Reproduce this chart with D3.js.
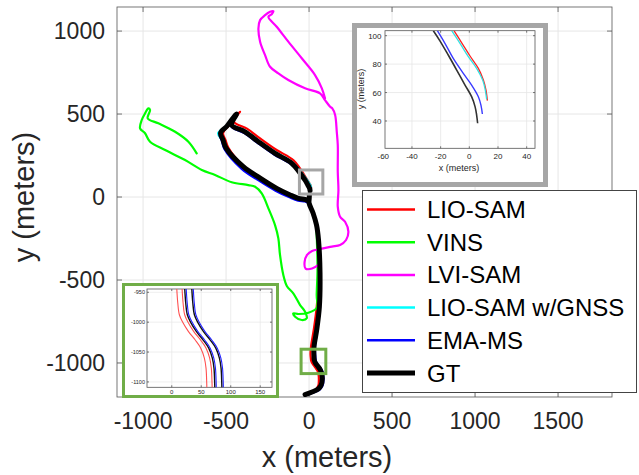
<!DOCTYPE html>
<html><head><meta charset="utf-8">
<script src="https://cdn.jsdelivr.net/npm/d3@7"></script>
<style>
body{margin:0;background:#fff;}
svg{display:block;font-family:"Liberation Sans",Arial,Helvetica,sans-serif;}
</style></head><body>
<svg id="c" width="639" height="475"></svg>
<script>
// ---------------- DATA (meters) ----------------
const seriesNames = ["LIO-SAM","VINS","LVI-SAM","LIO-SAM w/GNSS","EMA-MS","GT"];
const xTicks = [-1000,-500,0,500,1000,1500];
const yTicks = [-1000,-500,0,500,1000];

const gt = [[6,38],[5,45],[2.8,53],[-3,65],[-9,76],[-25,103],[-104,203],[-205,263],[-305,333],[-386,393],[-466,434],[-436,500],[-458,476],[-494,428],[-533,386],[-518,343],[-500,295],[-396,183],[-295,114],[-195,52],[-114,12],[-64,-8],[-24,-15],[-4,-22],null,
  [2,14],[1,-10],[0,-36],[24,-96],[45,-169],[57,-259],[66,-458],[62,-663],[46,-801],[30,-900],[29,-944],[32,-985],[39,-1002],[53,-1020],[67,-1040],[76,-1065],[80,-1095],[72,-1135],[55,-1157],[18,-1175],[-24,-1190]];

const lioSam = [[12.6,54],[11.6,62],[9.8,69],[6.3,77],[0.5,86],[-5.3,95],[-10.7,103.5],[-92,220],[-193,282],[-293,352],[-374,412],[-452,454],[-416,514],[-446,482],[-482,432],[-518,386],[-503,343],[-485,295],[-392,185],[-292,118],[-193,55],[-112,14],[-62,-6],[-22,-14],[-2,-34],[20,-98],[41,-170],[53,-260],[60,-458],[46,-663],[28,-801],[12,-900],[8.5,-944],[10.2,-968],[12.9,-988],[18.6,-1000],[28,-1015],[39.5,-1030],[49,-1044],[55,-1060],[58,-1077],[59,-1102],[56,-1135],[40,-1160],[10,-1176],[-26,-1190]];

const vins = [[27,-96],[42,-169],[48,-289],[51,-440],[46,-590],[46,-669],[-4,-697],[-64,-705],[-95,-701],[-84,-721],[-44,-741],[-14,-731],[-24,-691],[-54,-651],[-95,-580],[-134,-536],[-155,-470],[-175,-349],[-185,-249],[-205,-169],[-245,-68],[-285,22],[-325,62],[-366,72],[-466,89],[-566,133],[-646,163],[-747,223],[-867,283],[-958,333],[-988,384],[-1018,414],[-1008,464],[-988,504],[-968,534],[-958,524],[-972,474],[-908,444],[-807,393],[-727,333],[-677,263]];

const lviSam = [[54,-410],[18,-431],[-21,-431],[-27,-392],[-12,-349],[18,-325],[66,-313],[137,-299],[187,-289],[223,-259],[237,-209],[217,-149],[187,-119],[173,-58],[177,42],[173,152],[173,313],[167,393],[157,494],[140,534],[127,544],[96,584],[66,625],[-24,655],[-125,705],[-185,745],[-235,785],[-265,855],[-295,936],[-305,1016],[-295,1066],[-265,1096],[-235,1116],[-215,1120],[-225,1101],[-245,1086],[-195,1026],[-125,936],[-44,836],[36,735],[77,655],[96,595]];

const lioSamGnss = [[12.1,55.2],[10.9,63],[9.3,68.8],[5.1,77],[-0.7,85.2],[-6.5,94.6],[-12.3,103.5],[-100,208],[-201,268],[-301,338],[-382,398],[-463,439],[-432,504],[-455,479],[-494,430],[-548,384],[-522,340],[-503,291],[-398,181],[-296,112],[-196,50],[-114,10],[-64,-9],[-24,-17],[0,-36],[24,-96],[45,-169],[57,-259],[66,-458],[62,-663],[46,-801],[30,-900],[29,-944],[32,-985],[39,-1002],[53,-1020],[67,-1040],[76,-1065],[80,-1095],[72,-1135],[55,-1158],[18,-1177],[-24,-1190]];

const emaMs = [[9.1,44.9],[8.1,51.2],[6.3,57.1],[1.6,65.3],[-4.2,73.5],[-11.2,84],[-17,94.6],[-22.3,103.5],[-106,196],[-208,255],[-308,325],[-390,385],[-470,427],[-440,495],[-461,472],[-498,424],[-538,380],[-526,340],[-510,290],[-406,170],[-304,100],[-202,38],[-118,-2],[-66,-22],[-24,-27],[-2,-40],[26,-96],[48,-168],[61,-259],[69,-458],[66,-663],[50,-801],[36,-900],[36.5,-944],[40.9,-988],[46.6,-1000],[56,-1015],[67.5,-1030],[77,-1044],[83,-1060],[86,-1077],[87,-1102],[82,-1135],[64,-1160],[22,-1180],[-24,-1196]];

// zoom regions drawn in the main plot (meters)
const topZoomRegion = [[-58,18],[83,163]];
const botZoomRegion = [[-48,-917],[101,-1064]];

// upper-right inset
const insetTopXTicks = [-60,-40,-20,0,20,40];
const insetTopYTicks = [40,60,80,100];
const topGT = [[-25.1,103.5],[-20.5,96.4],[-14.7,86.4],[-8.8,75.8],[-3.0,65.3],[1.6,57.1],[4.0,50.1],[5.1,44.2],[5.8,38.4]];
const topEMA = [[-22.3,103.5],[-17,94.6],[-11.2,84],[-4.2,73.5],[1.6,65.3],[6.3,57.1],[8.1,51.2],[9.1,44.9]];
const topGnss = [[-12.3,103.5],[-6.5,94.6],[-0.7,85.2],[5.1,77],[9.3,68.8],[10.9,63],[12.1,55.2]];
const topLio = [[-10.7,103.5],[-5.3,95],[0.5,85.7],[6.3,77],[9.8,68.8],[11.6,61.8],[12.6,54.3]];

// lower-left inset
const insetBotXTicks = [0,50,100,150];
const insetBotYTicks = [-950,-1000,-1050,-1100];
const botLio1 = [[8.5,-944],[10.2,-968],[12.9,-987.6],[18.6,-1000.3],[28.1,-1015.4],[39.5,-1029.5],[49.2,-1043.5],[55.3,-1060.2],[58.1,-1077],[59.3,-1102],[59.5,-1110]];
const botLio2 = [[17.5,-944],[19.2,-968],[21.9,-987.6],[27.6,-1000.3],[37.1,-1015.4],[48.5,-1029.5],[58.2,-1043.5],[64.3,-1060.2],[67.1,-1077],[68.3,-1102],[68.5,-1110]];
const botGT1 = [[22,-944],[23.7,-968],[26.4,-987.6],[32.1,-1000.3],[41.6,-1015.4],[53,-1029.5],[62.7,-1043.5],[68.8,-1060.2],[71.6,-1077],[72.8,-1102],[73,-1110]];
const botEMA1 = [[24.5,-944],[26.2,-968],[28.9,-987.6],[34.6,-1000.3],[44.1,-1015.4],[55.5,-1029.5],[65.2,-1043.5],[71.3,-1060.2],[74.1,-1077],[75.3,-1102],[75.5,-1110]];
const botGT2 = [[34,-944],[35.7,-968],[38.4,-987.6],[44.1,-1000.3],[53.6,-1015.4],[65,-1029.5],[74.7,-1043.5],[80.8,-1060.2],[83.6,-1077],[84.8,-1102],[85,-1110]];
const botEMA2 = [[36.5,-944],[38.2,-968],[40.9,-987.6],[46.6,-1000.3],[56.1,-1015.4],[67.5,-1029.5],[77.2,-1043.5],[83.3,-1060.2],[86.1,-1077],[87.3,-1102],[87.5,-1110]];

// ---------------- STYLE ----------------
const colors = ["#ff0000","#00ff00","#ff00ff","#00ffff","#0000ff","#000000"];
const widths = [2.2,2.2,2.2,2.2,2.2,5];
const txt = "#262626", gridC = "#e6e6e6", axC = "#555";

const svg = d3.select("#c");
const x = d3.scaleLinear().domain([-1157,1825]).range([117,612]);
const y = d3.scaleLinear().domain([-1205,1145]).range([397,7]);

function drawAxes(g, xs, ys, xt, yt, tickLen, fs, opts){
  const [x0,x1] = xs.range(), [y0,y1] = ys.range();
  g.append("rect").attr("x",x0).attr("y",y1).attr("width",x1-x0).attr("height",y0-y1).attr("fill","#fff");
  g.selectAll(null).data(xt.filter(v=>v>=xs.domain()[0]&&v<=xs.domain()[1])).join("line")
    .attr("x1",d=>xs(d)).attr("x2",d=>xs(d)).attr("y1",y0).attr("y2",y1).attr("stroke",gridC).attr("stroke-width",opts.gw);
  g.selectAll(null).data(yt).join("line")
    .attr("y1",d=>ys(d)).attr("y2",d=>ys(d)).attr("x1",x0).attr("x2",x1).attr("stroke",gridC).attr("stroke-width",opts.gw);
}
function drawFrame(g, xs, ys, xt, yt, tickLen, sw){
  const [x0,x1] = xs.range(), [y0,y1] = ys.range();
  const xv = xt.filter(v=>v>=xs.domain()[0]&&v<=xs.domain()[1]);
  g.selectAll(null).data(xv).join("line").attr("x1",d=>xs(d)).attr("x2",d=>xs(d)).attr("y1",y0).attr("y2",y0-tickLen).attr("stroke",axC).attr("stroke-width",sw);
  g.selectAll(null).data(xv).join("line").attr("x1",d=>xs(d)).attr("x2",d=>xs(d)).attr("y1",y1).attr("y2",y1+tickLen).attr("stroke",axC).attr("stroke-width",sw);
  g.selectAll(null).data(yt).join("line").attr("y1",d=>ys(d)).attr("y2",d=>ys(d)).attr("x1",x0).attr("x2",x0+tickLen).attr("stroke",axC).attr("stroke-width",sw);
  g.selectAll(null).data(yt).join("line").attr("y1",d=>ys(d)).attr("y2",d=>ys(d)).attr("x1",x1).attr("x2",x1-tickLen).attr("stroke",axC).attr("stroke-width",sw);
  g.append("rect").attr("x",x0).attr("y",y1).attr("width",x1-x0).attr("height",y0-y1).attr("fill","none").attr("stroke",axC).attr("stroke-width",sw);
}

// ---- main axes ----
const main = svg.append("g");
drawAxes(main, x, y, xTicks, yTicks, 5, 23, {gw:1});
svg.append("clipPath").attr("id","mclip").append("rect").attr("x",117).attr("y",7).attr("width",495).attr("height",390);

const lineMain = d3.line().defined(d=>d!==null).x(d=>x(d[0])).y(d=>y(d[1])).curve(d3.curveCatmullRom.alpha(0.5));
const mainSeries = [lioSam, vins, lviSam, lioSamGnss, emaMs, gt];
const traj = svg.append("g").attr("clip-path","url(#mclip)");
mainSeries.forEach((s,i)=>{
  traj.append("path").attr("d",lineMain(s)).attr("fill","none").attr("stroke",colors[i])
    .attr("stroke-width",widths[i]).attr("stroke-linejoin","round").attr("stroke-linecap","round");
});
drawFrame(main.append("g"), x, y, xTicks, yTicks, 5, 0.8);

// tick labels
svg.append("g").selectAll("text").data(xTicks).join("text")
  .attr("x",d=>x(d)).attr("y",429).attr("text-anchor","middle").attr("font-size",23).attr("fill",txt).text(d=>d);
svg.append("g").selectAll("text").data(yTicks).join("text")
  .attr("x",105).attr("y",d=>y(d)+8).attr("text-anchor","end").attr("font-size",23).attr("fill",txt).text(d=>d);
svg.append("text").attr("x",327).attr("y",467).attr("text-anchor","middle").attr("font-size",29).attr("fill",txt).text("x (meters)");
svg.append("text").attr("transform","translate(34,197) rotate(-90)").attr("text-anchor","middle").attr("font-size",29).attr("fill",txt).text("y (meters)");

// zoom region boxes
svg.append("rect").attr("x",x(topZoomRegion[0][0])).attr("y",y(topZoomRegion[1][1]))
  .attr("width",x(topZoomRegion[1][0])-x(topZoomRegion[0][0])).attr("height",y(topZoomRegion[0][1])-y(topZoomRegion[1][1]))
  .attr("fill","none").attr("stroke","#a6a6a6").attr("stroke-width",3);
svg.append("rect").attr("x",x(botZoomRegion[0][0])).attr("y",y(botZoomRegion[0][1]))
  .attr("width",x(botZoomRegion[1][0])-x(botZoomRegion[0][0])).attr("height",y(botZoomRegion[1][1])-y(botZoomRegion[0][1]))
  .attr("fill","none").attr("stroke","#70ad47").attr("stroke-width",3);

// ---- upper-right inset ----
svg.append("rect").attr("x",354.5).attr("y",25.5).attr("width",191).attr("height",159).attr("fill","#fff").attr("stroke","#a6a6a6").attr("stroke-width",5);
const xs1 = d3.scaleLinear().domain([-58.8,45.8]).range([385,535]);
const ys1 = d3.scaleLinear().domain([20.8,103.5]).range([148.3,30.7]);
const in1 = svg.append("g");
drawAxes(in1, xs1, ys1, insetTopXTicks, insetTopYTicks, 2, 8, {gw:0.8});
svg.append("clipPath").attr("id","c1").append("rect").attr("x",385).attr("y",30.7).attr("width",150).attr("height",117.6);
const l1 = d3.line().x(d=>xs1(d[0])).y(d=>ys1(d[1])).curve(d3.curveCatmullRom.alpha(0.5));
const g1 = svg.append("g").attr("clip-path","url(#c1)");
[[topGT,"#333",1.6],[topEMA,"#3a3aff",1.4],[topLio,"#ff2020",1.3],[topGnss,"#33e0e0",1.3]].forEach(([d,c,w])=>{
  g1.append("path").attr("d",l1(d)).attr("fill","none").attr("stroke",c).attr("stroke-width",w);
});
drawFrame(in1.append("g"), xs1, ys1, insetTopXTicks, insetTopYTicks, 2, 0.8);
svg.append("g").selectAll("text").data(insetTopXTicks).join("text").attr("x",d=>xs1(d)).attr("y",159)
  .attr("text-anchor","middle").attr("font-size",8).attr("fill",txt).text(d=>d);
svg.append("g").selectAll("text").data(insetTopYTicks).join("text").attr("x",381.5).attr("y",d=>ys1(d)+3)
  .attr("text-anchor","end").attr("font-size",8).attr("fill",txt).text(d=>d);
svg.append("text").attr("x",459).attr("y",171).attr("text-anchor","middle").attr("font-size",9).attr("fill",txt).text("x (meters)");
svg.append("text").attr("transform","translate(364,89) rotate(-90)").attr("text-anchor","middle").attr("font-size",9).attr("fill",txt).text("y (meters)");

// ---- lower-left inset ----
svg.append("rect").attr("x",123.5).attr("y",284.5).attr("width",154).attr("height",112).attr("fill","#fff").attr("stroke","#70ad47").attr("stroke-width",3);
const xs2 = d3.scaleLinear().domain([-42,170]).range([147,272]);
const ys2 = d3.scaleLinear().domain([-1109,-944.5]).range([387.3,289]);
const in2 = svg.append("g");
drawAxes(in2, xs2, ys2, insetBotXTicks, insetBotYTicks, 2, 6, {gw:0.7});
svg.append("clipPath").attr("id","c2").append("rect").attr("x",147).attr("y",289).attr("width",125).attr("height",98.3);
const l2 = d3.line().x(d=>xs2(d[0])).y(d=>ys2(d[1])).curve(d3.curveCatmullRom.alpha(0.5));
const g2 = svg.append("g").attr("clip-path","url(#c2)");
[[botLio1,"#ff5050",1.1],[botLio2,"#ff5050",1.1],[botGT1,"#111",1.4],[botEMA1,"#2020ff",1.1],[botGT2,"#111",1.4],[botEMA2,"#2020ff",1.1]].forEach(([d,c,w],i)=>{
  const off = (c==="#2020ff") ? 1.2 : 0;
  g2.append("path").attr("d",l2(d)).attr("fill","none").attr("stroke",c).attr("stroke-width",w);
});
drawFrame(in2.append("g"), xs2, ys2, insetBotXTicks, insetBotYTicks, 2, 0.8);
svg.append("g").selectAll("text").data(insetBotXTicks).join("text").attr("x",d=>xs2(d)).attr("y",394)
  .attr("text-anchor","middle").attr("font-size",6).attr("fill",txt).text(d=>d);
svg.append("g").selectAll("text").data(insetBotYTicks).join("text").attr("x",145).attr("y",d=>ys2(d)+2)
  .attr("text-anchor","end").attr("font-size",5.5).attr("fill",txt).text(d=>d);

// ---- legend ----
const leg = svg.append("g");
leg.append("rect").attr("x",362.5).attr("y",190.5).attr("width",274).attr("height",202).attr("fill","#fff").attr("stroke","#444").attr("stroke-width",1);
seriesNames.forEach((n,i)=>{
  const yy = 209.5 + i*32.7;
  leg.append("line").attr("x1",367).attr("x2",415).attr("y1",yy).attr("y2",yy).attr("stroke",colors[i]).attr("stroke-width",i===5?5:2.5);
  leg.append("text").attr("x",427).attr("y",yy+8.5).attr("font-size",24).attr("fill","#000").text(n);
});
</script>
</body></html>
